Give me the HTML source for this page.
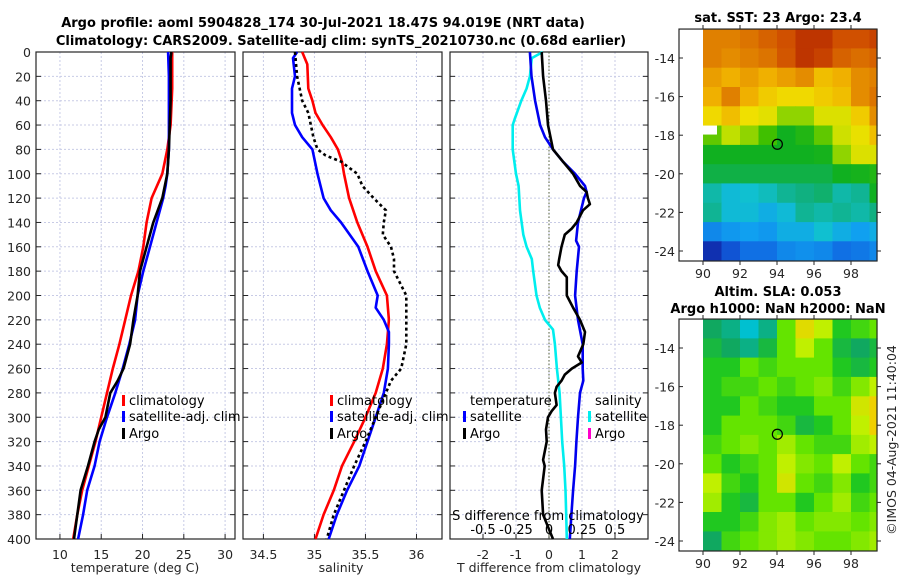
<!DOCTYPE html>
<html><head><meta charset="utf-8">
<style>
html,body{margin:0;padding:0;background:#fff;}
svg{display:block;font-family:"DejaVu Sans","Liberation Sans",sans-serif;}
.tk{font-size:12.5px;fill:#262626;}
.tt{font-size:13px;font-weight:bold;fill:#000;}
.lg{font-size:13px;fill:#000;}
</style></head><body>
<svg id="fig" width="900" height="580" viewBox="0 0 900 580">
<rect width="900" height="580" fill="#fff"/>
<text class="tt" x="323" y="27" text-anchor="middle">Argo profile: aoml 5904828_174 30-Jul-2021 18.47S 94.019E (NRT data)</text>
<text class="tt" x="341" y="45" text-anchor="middle">Climatology: CARS2009. Satellite-adj clim: synTS_20210730.nc (0.68d earlier)</text>
<g id="layer"></g>
</svg>
<script>
// ---------- data ----------
const depthTicks = [0,20,40,60,80,100,120,140,160,180,200,220,240,260,280,300,320,340,360,380,400];
const tempTicks = [10,15,20,25,30];
const salTicks = [34.5,35,35.5,36];
const tdiffTicks = [-2,-1,0,1,2];
const sdiffTicks = [-0.5,-0.25,0,0.25,0.5];
const sdiffTickLabels = ["-0.5","-0.25","0","0.25","0.5"];

const tClimDepth = [0,30,60,80,90,100,120,140,160,180,200,220,240,260,280,300,320,340,360,380,400];
const tClimVal   = [23.6,23.6,23.4,23.0,22.7,22.4,21.1,20.5,20.1,19.5,18.6,17.9,17.2,16.4,15.7,15.0,14.3,13.5,12.7,12.1,11.6];
const tSatDepth = [0,20,40,60,80,100,110,120,140,160,180,200,220,240,260,280,300,320,340,360,380,400];
const tSatVal   = [23.1,23.2,23.2,23.2,23.2,23.0,22.8,22.5,21.7,20.9,20.1,19.4,19.1,18.4,17.6,16.7,15.7,14.8,14.2,13.3,12.8,12.2];
const tArgoDepth = [0,5,40,80,100,120,140,160,180,200,220,240,260,270,280,300,310,320,340,360,380,400];
const tArgoVal   = [23.5,23.4,23.4,23.2,23.0,22.4,21.3,20.5,19.7,19.4,18.9,18.5,17.7,17.0,16.1,15.5,14.7,14.2,13.4,12.5,12.1,11.7];

const sClimDepth = [0,10,30,40,50,60,70,80,90,100,120,140,160,180,200,220,240,260,280,300,320,340,360,380,400];
const sClimVal   = [34.88,34.93,34.94,34.98,35.01,35.08,35.16,35.23,35.27,35.29,35.34,35.42,35.52,35.60,35.71,35.73,35.71,35.67,35.60,35.50,35.39,35.27,35.19,35.09,35.01];
const sSatDepth = [0,5,20,30,50,60,70,80,100,120,130,140,160,180,200,210,220,230,240,260,280,300,320,340,360,380,400];
const sSatVal   = [34.83,34.79,34.81,34.78,34.78,34.81,34.88,34.98,35.03,35.09,35.16,35.26,35.43,35.52,35.62,35.60,35.68,35.73,35.73,35.72,35.68,35.60,35.52,35.44,35.32,35.22,35.14];
const sArgoDepth = [0,20,40,50,70,80,85,90,100,110,120,130,140,150,160,170,180,200,220,240,260,270,280,300,320,340,360,380,400];
const sArgoVal   = [34.81,34.83,34.88,34.94,34.99,35.03,35.11,35.26,35.42,35.47,35.58,35.70,35.68,35.67,35.75,35.78,35.78,35.90,35.90,35.90,35.85,35.75,35.70,35.60,35.50,35.39,35.29,35.19,35.12];

const dtSatDepth = [0,20,40,60,70,80,90,100,110,115,120,140,155,160,180,200,220,240,260,270,280,300,320,340,360,380,400];
const dtSatVal   = [-0.58,-0.53,-0.42,-0.27,-0.12,0.12,0.42,0.79,1.09,1.14,1.06,0.88,0.82,0.91,0.84,0.79,0.88,1.02,1.02,1.04,0.94,0.88,0.83,0.79,0.73,0.68,0.63];
const dtArgoDepth = [0,20,40,60,80,90,100,110,115,120,125,130,140,145,150,160,170,175,180,185,200,210,220,230,240,250,255,260,265,270,275,280,290,295,300,310,320,335,340,360,380,390,400];
const dtArgoVal   = [-0.22,-0.18,-0.09,-0.03,0.12,0.42,0.73,0.94,1.14,1.18,1.24,1.03,0.84,0.69,0.48,0.38,0.31,0.28,0.38,0.54,0.54,0.73,0.94,1.09,1.04,0.88,0.99,0.69,0.48,0.38,0.23,0.18,0.23,0.08,-0.03,-0.09,-0.07,-0.18,-0.13,-0.22,-0.18,-0.03,0.12];
const dsSatDepth = [0,5,20,30,40,55,60,80,100,110,130,150,160,170,180,200,210,220,228,240,260,280,300,320,340,360,380,400];
const dsSatVal   = [-0.048,-0.13,-0.145,-0.17,-0.21,-0.26,-0.275,-0.275,-0.25,-0.23,-0.22,-0.195,-0.17,-0.13,-0.12,-0.095,-0.07,-0.03,0.03,0.045,0.06,0.08,0.09,0.10,0.115,0.125,0.13,0.135];

const mapLon = [90,91,92,93,94,95,96,97,98,99];
const mapLat = [-12.5,-13.5,-14.5,-15.5,-16.5,-17.5,-18.5,-19.5,-20.5,-21.5,-22.5,-23.5];
const sstGrid = [
[.80,.80,.82,.85,.88,.92,.92,.88,.88,.90],
[.80,.78,.80,.82,.87,.92,.90,.85,.83,.85],
[.75,.72,.75,.72,.75,.78,.70,.72,.78,.80],
[.72,.80,.72,.68,.66,.66,.68,.70,.78,.82],
[.66,.70,.65,.63,.55,.55,.62,.62,.68,.78],
[.52,.58,.55,.50,.42,.45,.52,.60,.64,.70],
[.42,.42,.42,.42,.42,.42,.43,.55,.62,.62],
[.40,.40,.40,.40,.40,.40,.40,.42,.43,.45],
[.35,.32,.33,.34,.36,.37,.38,.35,.36,.42],
[.36,.32,.32,.30,.32,.36,.35,.36,.35,.37],
[.25,.27,.28,.27,.30,.30,.33,.30,.28,.30],
[.12,.18,.22,.22,.25,.26,.25,.22,.23,.25]];
const slaGrid = [
[.35,.30,.20,.30,.55,.80,.70,.45,.50,.55],
[.40,.35,.30,.40,.55,.70,.55,.40,.35,.40],
[.45,.45,.55,.50,.55,.55,.55,.45,.40,.45],
[.45,.50,.50,.55,.50,.55,.60,.50,.60,.70],
[.45,.45,.55,.50,.45,.45,.55,.55,.75,.85],
[.45,.55,.55,.55,.50,.40,.45,.55,.70,.85],
[.50,.55,.60,.55,.65,.55,.50,.50,.65,.70],
[.55,.45,.50,.55,.70,.60,.55,.70,.55,.50],
[.70,.50,.45,.55,.75,.55,.50,.60,.45,.50],
[.65,.45,.40,.55,.55,.45,.55,.65,.50,.55],
[.45,.45,.50,.60,.65,.55,.60,.60,.55,.60],
[.35,.50,.55,.60,.65,.60,.55,.55,.60,.65]];
const argoLon = 94.019, argoLat = -18.47;
const lonTicks = [90,92,94,96,98];
const latTicks = [-14,-16,-18,-20,-22,-24];

// ---------- helpers ----------
const NS='http://www.w3.org/2000/svg';
const L=document.getElementById('layer');
function mk(tag,at,parent){const e=document.createElementNS(NS,tag);for(const k in at)e.setAttribute(k,at[k]);(parent||L).appendChild(e);return e;}
function txt(x,y,s,cls,anchor,parent){const e=mk('text',{x:x,y:y,class:cls,'text-anchor':anchor||'middle'},parent);e.textContent=s;return e;}

const PT=52, PB=539;
const yD=d=>PT+(d/400)*(PB-PT);
const panels=[
 {x0:36,x1:235,v0:7.1,v1:31.2},
 {x0:243,x1:442,v0:34.30,v1:36.25},
 {x0:450,x1:648,v0:-3,v1:3}
];
function sx(p,v){return p.x0+(v-p.v0)/(p.v1-p.v0)*(p.x1-p.x0);}
function sxS(v){return sx(panels[2],v*4);}

function frame(p,ticks,labels,name,withDepth){
  const g=mk('g',{});
  
  
  ticks.forEach(t=>{const x=sx(p,t);mk('line',{x1:x,x2:x,y1:PT,y2:PB,stroke:'#c8cbe6','stroke-width':1,'stroke-dasharray':'2,2'},g);
    mk('line',{x1:x,x2:x,y1:PB,y2:PB-5,stroke:'#262626'},g);});
  depthTicks.forEach(d=>{const y=yD(d);mk('line',{x1:p.x0,x2:p.x1,y1:y,y2:y,stroke:'#c8cbe6','stroke-width':1,'stroke-dasharray':'2,2'},g);
    mk('line',{x1:p.x0,x2:p.x0+5,y1:y,y2:y,stroke:'#262626'},g);mk('line',{x1:p.x1,x2:p.x1-5,y1:y,y2:y,stroke:'#262626'},g);
    if(withDepth){const t=txt(p.x0-5,y+5,String(d),'tk','end',g);}});
  mk('rect',{x:p.x0,y:PT,width:p.x1-p.x0,height:PB-PT,fill:'none',stroke:'#262626','stroke-width':1.2},g);
  ticks.forEach((t,i)=>{const e=txt(sx(p,t),559,labels[i],'tk','middle',g);});
  return g;
}
function line(p,depths,vals,color,name,dash,conv){
  const pts=depths.map((d,i)=>(conv?conv(vals[i]):sx(p,vals[i])).toFixed(1)+','+yD(d).toFixed(1)).join(' ');
  const at={points:pts,fill:'none',stroke:color,'stroke-width':2.6,'stroke-linejoin':'round'};
  if(dash)at['stroke-dasharray']=dash;
  const e=mk('polyline',at);
  
  
}
function legendEntry(x,y,color,label,name){
  const g=mk('g',{});
  
  
  mk('rect',{x:x,y:y-10,width:3,height:11,fill:color},g);
  txt(x+7,y,label,'lg','start',g);
}

// panel 1
frame(panels[0],tempTicks,tempTicks.map(String),'temperature-axes',true);
line(panels[0],tClimDepth,tClimVal,'#ff0000','temp-climatology-line');
line(panels[0],tSatDepth,tSatVal,'#0000ff','temp-satellite-line');
line(panels[0],tArgoDepth,tArgoVal,'#000000','temp-argo-line');
txt(135,572,'temperature (deg C)','tk','middle');
legendEntry(122,405,'#ff0000','climatology','legend-climatology');
legendEntry(122,421,'#0000ff','satellite-adj. clim','legend-satellite');
legendEntry(122,438,'#000000','Argo','legend-argo');

// panel 2
frame(panels[1],salTicks,salTicks.map(String),'salinity-axes',false);
line(panels[1],sClimDepth,sClimVal,'#ff0000','sal-climatology-line');
line(panels[1],sSatDepth,sSatVal,'#0000ff','sal-satellite-line');
line(panels[1],sArgoDepth,sArgoVal,'#000000','sal-argo-line','3,3');
txt(341,572,'salinity','tk','middle');
legendEntry(330,405,'#ff0000','climatology','legend-climatology-2');
legendEntry(330,421,'#0000ff','satellite-adj. clim','legend-satellite-2');
legendEntry(330,438,'#000000','Argo','legend-argo-2');

// panel 3
frame(panels[2],tdiffTicks,tdiffTicks.map(String),'difference-axes',false);
{const x=sx(panels[2],0);const z=mk('line',{x1:x,x2:x,y1:PT,y2:PB,stroke:'#55603a','stroke-width':1,'stroke-dasharray':'1.5,2'});}
line(panels[2],dsSatDepth,dsSatVal,'#00eeee','sdiff-satellite-line',null,sxS);
line(panels[2],dtSatDepth,dtSatVal,'#0000ee','tdiff-satellite-line');
line(panels[2],dtArgoDepth,dtArgoVal,'#000000','tdiff-argo-line');
txt(470,405,'temperature','lg','start');
legendEntry(463,421,'#0000ff','satellite','legend-t-satellite');
legendEntry(463,438,'#000000','Argo','legend-t-argo');
txt(595,405,'salinity','lg','start');
legendEntry(588,421,'#00eeee','satellite','legend-s-satellite');
legendEntry(588,438,'#ff00cc','Argo','legend-s-argo');
txt(548,520,'S difference from climatology','lg','middle');
sdiffTicks.forEach((t,i)=>{const e=txt(sxS(t),534,sdiffTickLabels[i],'lg','middle');});
txt(549,572,'T difference from climatology','tk','middle');

// ---------- maps ----------
function interp(stops,v){for(let i=1;i<stops.length;i++){if(v<=stops[i][0]){const a=stops[i-1],b=stops[i];const f=(v-a[0])/(b[0]-a[0]);return 'rgb('+[1,2,3].map(k=>Math.round(a[k]+(b[k]-a[k])*f)).join(',')+')';}}const l=stops[stops.length-1];return 'rgb('+l[1]+','+l[2]+','+l[3]+')';}
const sstStops=[[0,10,20,140],[0.12,16,48,176],[0.2,16,96,224],[0.28,16,160,240],[0.33,16,192,208],[0.37,16,176,128],[0.42,16,176,32],[0.5,64,192,0],[0.58,192,224,0],[0.65,240,224,0],[0.72,240,176,0],[0.8,224,128,0],[0.88,208,80,0],[0.95,176,32,0],[1,150,10,0]];
const slaStops=[[0,0,160,200],[0.2,0,192,208],[0.35,16,168,96],[0.45,32,200,32],[0.55,100,228,0],[0.7,192,240,0],[0.85,240,208,0],[1,240,160,0]];

function drawMap(cfg){
  const fx0=679,fx1=877;
  const xL=lon=>703+(lon-90)*18.5;
  const yL=lat=>cfg.y14+(-14-lat)*19.3;
  const g=mk('g',{});
  
  
  cfg.grid.forEach((row,r)=>row.forEach((v,c)=>{
    const x0=xL(mapLon[c]),x1=Math.min(fx1,xL(mapLon[c]+1));
    const y0=yL(mapLat[r]),y1=Math.min(cfg.yb,yL(mapLat[r]-1));
    const cell=mk('rect',{x:x0.toFixed(1),y:y0.toFixed(1),width:(x1-x0+0.6).toFixed(1),height:(y1-y0+0.6).toFixed(1),fill:interp(cfg.stops,v)},g);
    
    
  }));
  if(cfg.gap){mk('rect',{x:xL(90),y:yL(-17.5),width:14,height:9,fill:'#fff'},g);}
  mk('circle',{cx:xL(argoLon),cy:yL(argoLat),r:5,fill:'none',stroke:'#000','stroke-width':1.2},g);
  mk('rect',{x:fx0,y:yL(-12.5),width:fx1-fx0,height:cfg.yb-yL(-12.5),fill:'none',stroke:'#262626','stroke-width':1.2},g);
  latTicks.forEach(t=>{const y=yL(t);mk('line',{x1:fx0,x2:fx0+4,y1:y,y2:y,stroke:'#262626'},g);mk('line',{x1:fx1,x2:fx1+4,y1:y,y2:y,stroke:'#262626'},g);
    const e=txt(fx0-4,y+5,String(t),'tk','end',g);});
  lonTicks.forEach(t=>{const x=xL(t);mk('line',{x1:x,x2:x,y1:cfg.yb,y2:cfg.yb+4,stroke:'#262626'},g);mk('line',{x1:x,x2:x,y1:yL(-12.5),y2:yL(-12.5)-4,stroke:'#262626'},g);
    const e=txt(x,cfg.yb+17,String(t),'tk','middle',g);});
}
drawMap({name:'sst-map',grid:sstGrid,stops:sstStops,y14:58,yb:261,gap:true});
drawMap({name:'sla-map',grid:slaGrid,stops:slaStops,y14:348,yb:551,gap:false});
txt(778,22,'sat. SST: 23 Argo: 23.4','tt','middle');
txt(778,296,'Altim. SLA: 0.053','tt','middle');
txt(778,313,'Argo h1000: NaN h2000: NaN','tt','middle');
{const e=txt(0,0,'©IMOS 04-Aug-2021 11:40:04','tk','middle');e.setAttribute('transform','translate(896,440) rotate(-90)');}
</script>
</body></html>
